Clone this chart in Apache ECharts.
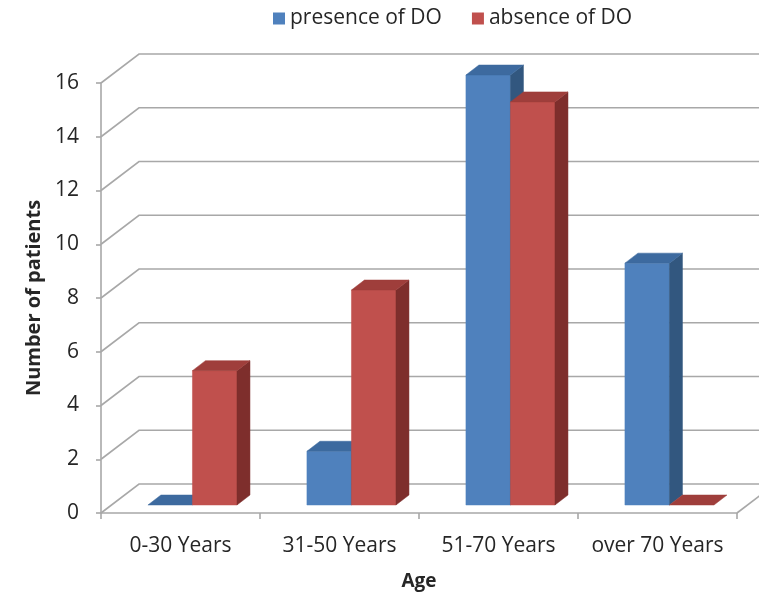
<!DOCTYPE html>
<html>
<head>
<meta charset="utf-8">
<script src="https://cdn.jsdelivr.net/npm/echarts@6/dist/echarts.min.js"></script>
<style>
  html, body { margin: 0; padding: 0; background: #fff; }
  #chart { width: 759px; height: 594px; }
</style>
</head>
<body>
<div id="chart"></div>
<script>
const categories = ['0-30 Years', '31-50 Years', '51-70 Years', 'over 70 Years'];
const presenceOfDO = [0, 2, 16, 9];
const absenceOfDO = [5, 8, 15, 0];
const yTicks = [0, 2, 4, 6, 8, 10, 12, 14, 16];

// pseudo-3D geometry (pixel offsets: right, up)
const WALL = [38, -29];       // floor depth up to the back wall
const BAR_FRONT = [11, -8];   // bars' front face sits behind the front edge
const BAR_DEPTH = [13, -10];  // thickness of each bar
const BAR_RATIO = 0.28;       // bar width as a share of the category band
const BAR_LEAD = 0.226;       // empty space before the first bar in a band

const GRID_COLOR = '#a8a8a8';
const TEXT_COLOR = '#262626';
const FONT = '"Open Sans", "Liberation Sans", sans-serif';

const shades = {
  blue: { front: '#4F81BD', top: '#3D6A9F', side: '#32577F' },
  red:  { front: '#C0504D', top: '#9F3E3B', side: '#7E2E2C' }
};

function barRenderer(slot, c) {
  return function (params, api) {
    const idx = api.value(0);
    const v = api.value(1);
    const base = api.coord([idx, 0]);
    const top = api.coord([idx, v]);
    const bw = api.size([1, 0])[0];
    const w = bw * BAR_RATIO;
    const x0 = base[0] - bw / 2 + bw * BAR_LEAD + slot * w + BAR_FRONT[0];
    const x1 = x0 + w;
    const yb = base[1] + BAR_FRONT[1];
    const yt = top[1] + BAR_FRONT[1];
    const dx = BAR_DEPTH[0], dy = BAR_DEPTH[1];
    const children = [];
    if (yb - yt > 0.5) {
      children.push({ type: 'polygon', shape: { points: [[x0, yb], [x1, yb], [x1, yt], [x0, yt]] },
        style: { fill: c.front, stroke: c.front, lineWidth: 0.5 } });
      children.push({ type: 'polygon', shape: { points: [[x1, yb], [x1 + dx, yb + dy], [x1 + dx, yt + dy], [x1, yt]] },
        style: { fill: c.side, stroke: c.side, lineWidth: 0.5 } });
    }
    children.push({ type: 'polygon', shape: { points: [[x0, yt], [x1, yt], [x1 + dx, yt + dy], [x0 + dx, yt + dy]] },
      style: { fill: c.top, stroke: c.top, lineWidth: 0.5 } });
    return { type: 'group', children: children };
  };
}

// side wall, back wall gridlines and floor edge
function frameRenderer(params, api) {
  const cs = params.coordSys;
  const gx = cs.x, gr = cs.x + cs.width;
  const children = [];
  yTicks.forEach(function (t) {
    const y = api.coord([0, t])[1];
    children.push({ type: 'polyline',
      shape: { points: [[gx, y], [gx + WALL[0], y + WALL[1]], [gr + WALL[0], y + WALL[1]]] },
      style: { stroke: GRID_COLOR, lineWidth: 1.6, fill: null } });
  });
  const y0 = api.coord([0, 0])[1];
  children.push({ type: 'line', shape: { x1: gr, y1: y0, x2: gr + WALL[0], y2: y0 + WALL[1] },
    style: { stroke: GRID_COLOR, lineWidth: 1.6 } });
  return { type: 'group', children: children };
}

const chart = echarts.init(document.getElementById('chart'), null, { renderer: 'canvas' });

chart.setOption({
  animation: false,
  backgroundColor: '#ffffff',
  textStyle: { fontFamily: FONT },
  legend: {
    data: ['presence of DO', 'absence of DO'],
    top: 3,
    left: 268,
    icon: 'rect',
    itemWidth: 12,
    itemHeight: 12,
    itemGap: 30,
    textStyle: { fontSize: 21, color: TEXT_COLOR, fontFamily: FONT }
  },
  grid: { left: 101, right: 22, top: 83, bottom: 81, containLabel: false, outerBoundsMode: 'none' },
  xAxis: {
    type: 'category',
    data: categories,
    name: 'Age',
    nameLocation: 'middle',
    nameGap: 59,
    nameTextStyle: { fontSize: 19, fontWeight: 'bold', color: TEXT_COLOR, fontFamily: FONT },
    axisLine: { show: true, lineStyle: { color: GRID_COLOR, width: 1.6 } },
    axisTick: { show: true, length: 6, interval: 0, lineStyle: { color: GRID_COLOR, width: 1.6 } },
    axisLabel: { fontSize: 21, color: TEXT_COLOR, margin: 23, interval: 0, fontFamily: FONT },
    splitLine: { show: false }
  },
  yAxis: {
    type: 'value',
    min: 0,
    max: 16,
    interval: 2,
    name: 'Number of patients',
    nameLocation: 'middle',
    nameRotate: 90,
    nameGap: 56,
    nameTextStyle: { fontSize: 20, fontWeight: 'bold', color: TEXT_COLOR, fontFamily: FONT },
    axisLine: { show: true, lineStyle: { color: GRID_COLOR, width: 1.6 } },
    axisTick: { show: true, length: 5, lineStyle: { color: GRID_COLOR, width: 1.6 } },
    axisLabel: { fontSize: 21, color: TEXT_COLOR, margin: 22, fontFamily: FONT },
    splitLine: { show: false }
  },
  series: [
    {
      name: 'frame',
      type: 'custom',
      z: 1,
      silent: true,
      renderItem: frameRenderer,
      data: [[0, 0]]
    },
    {
      name: 'presence of DO',
      type: 'custom',
      z: 2,
      itemStyle: { color: shades.blue.front },
      renderItem: barRenderer(0, shades.blue),
      data: presenceOfDO.map(function (v, i) { return [i, v]; })
    },
    {
      name: 'absence of DO',
      type: 'custom',
      z: 3,
      itemStyle: { color: shades.red.front },
      renderItem: barRenderer(1, shades.red),
      data: absenceOfDO.map(function (v, i) { return [i, v]; })
    }
  ]
});
</script>
</body>
</html>
